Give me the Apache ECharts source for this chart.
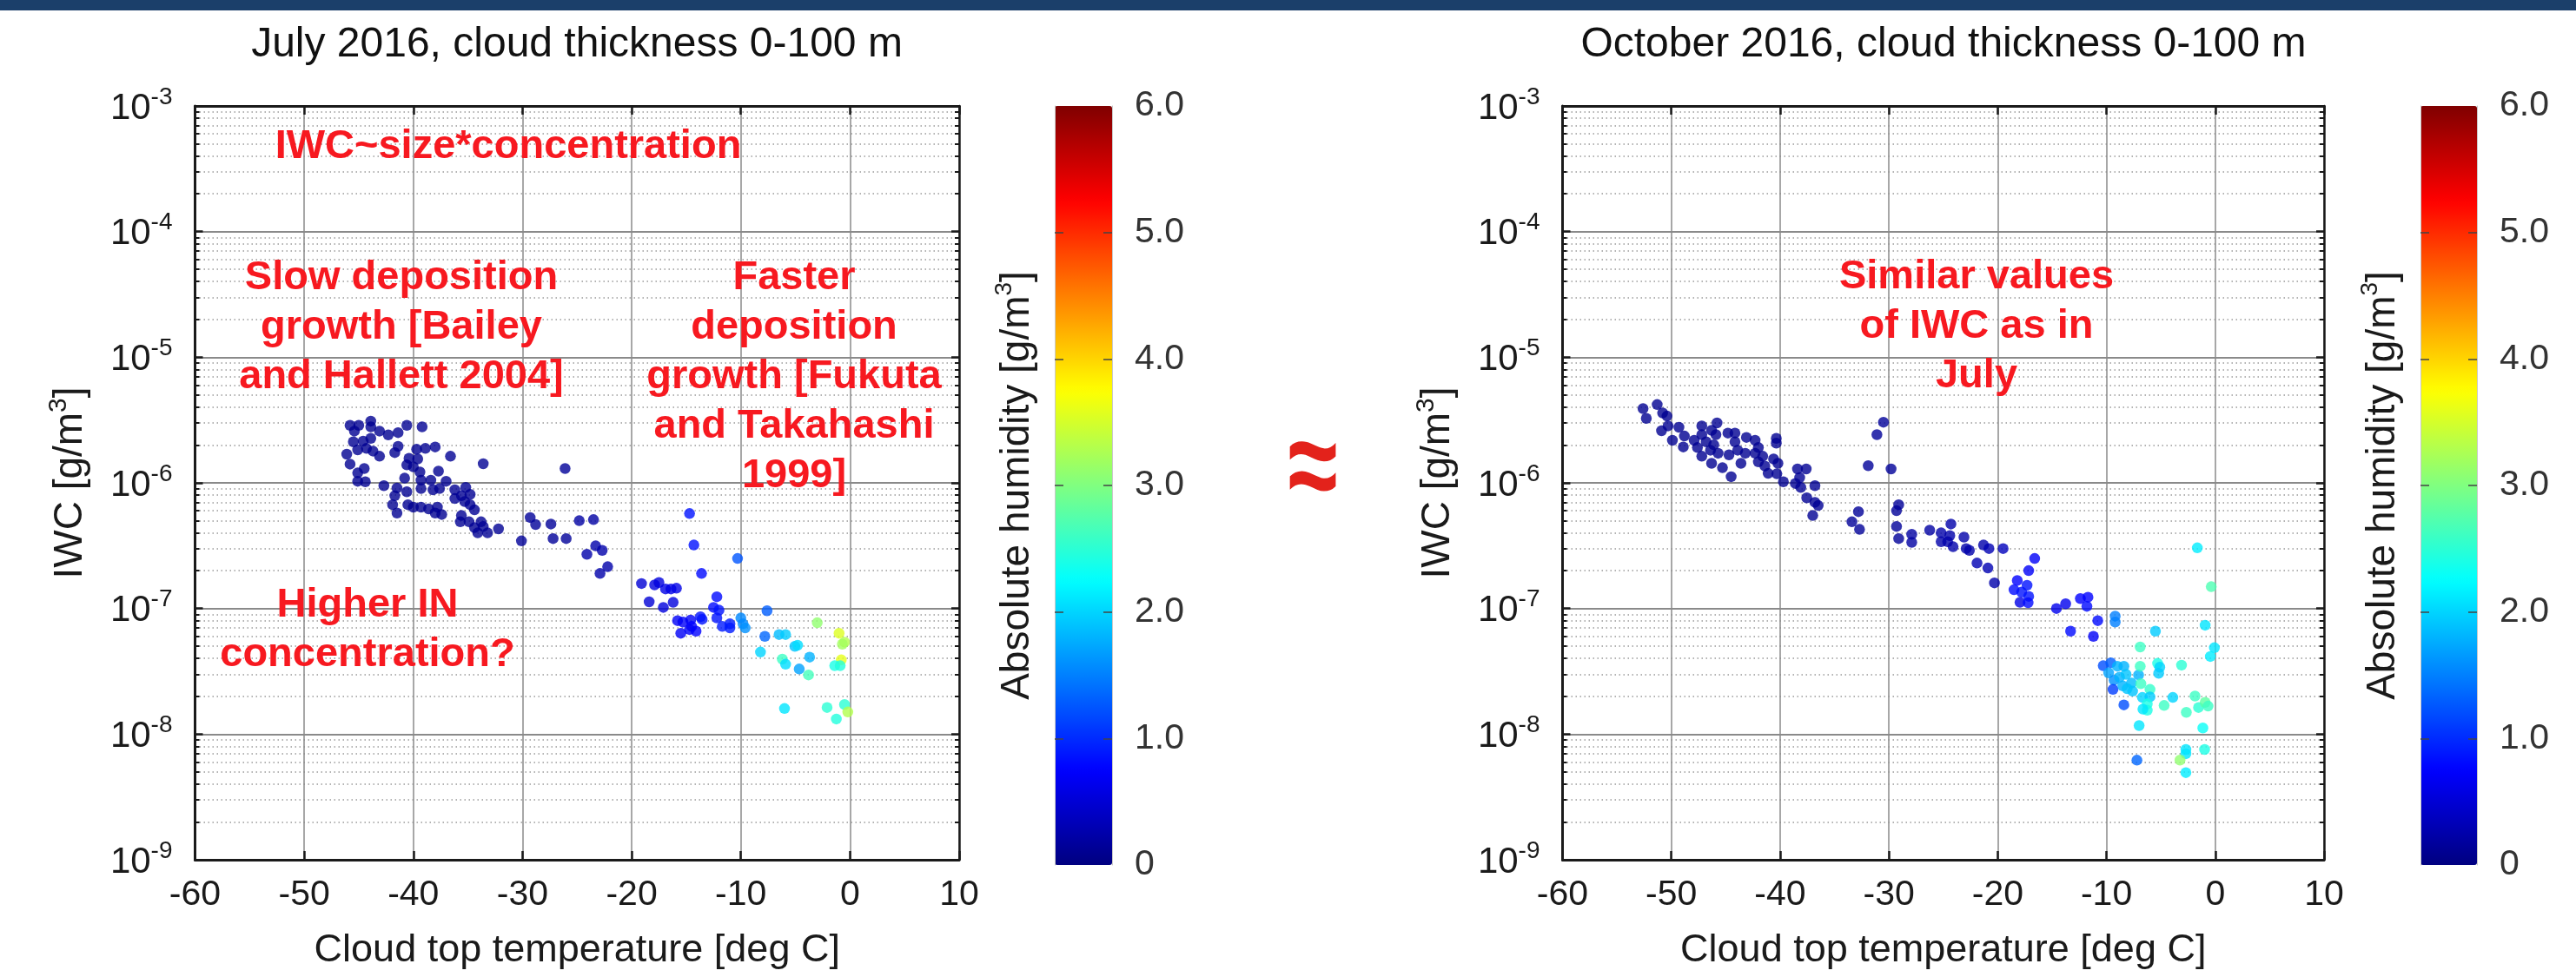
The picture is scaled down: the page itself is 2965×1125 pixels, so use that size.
<!DOCTYPE html>
<html><head><meta charset="utf-8">
<script src="https://cdn.jsdelivr.net/npm/echarts@6/dist/echarts.min.js"></script>
<style>html,body{margin:0;padding:0;background:#fff}#c{width:2965px;height:1125px}</style>
</head><body><div id="c"></div>
<script>
// ---------------- DATA ----------------
const julyTemp = [-45.8,-45.0,-45.4,-43.9,-43.9,-43.1,-42.3,-41.4,-40.6,-39.2,-45.5,-44.6,-43.9,-44.3,-45.1,-43.7,-43.1,-46.1,-45.8,-44.5,-45.1,-45.1,-44.4,-41.4,-41.7,-39.7,-38.9,-38.0,-36.6,-33.6,
 -40.4,-39.6,-40.6,-40.0,-39.4,-40.8,-42.7,-41.5,-39.3,-39.3,-38.4,-37.7,-37.0,-38.2,-37.6,-41.7,-41.9,-41.5,-40.6,-40.5,-40.0,-39.3,-38.6,-37.8,-37.4,-38.0,
 -36.2,-36.2,-35.6,-35.2,-34.8,-35.3,-34.8,-34.4,-35.6,-35.7,-34.9,-34.4,-33.8,-33.6,-34.1,-33.2,-32.2,-30.1,-29.3,-28.8,-26.1,
 -27.4,-27.2,-26.0,-24.8,-23.5,-23.3,-22.7,-24.1,-22.2,-22.9,
 -19.1,-17.9,-17.5,-16.9,-16.4,-15.9,-18.4,-17.1,-16.2,
 -14.7,-14.3,-13.6,-10.3,-12.2,-12.5,-12.0,-12.2,-11.7,-11.0,-11.0,
 -15.8,-15.3,-14.6,-14.5,-14.7,-14.1,-15.5,-13.7,-13.55,
 -10.0,-9.8,-9.6,-7.6,-7.8,-6.5,-5.9,-5.05,-4.8,-8.2,-6.2,-5.9,-4.65,-3.7,-3.8,-3.0,-1.0,-0.5,-0.7,-0.8,-1.4,-0.9,-6.0,-2.1,-1.25,-0.5,-0.2];
const julyIWC = [2.87e-6,2.87e-6,2.58e-6,3.1e-6,2.79e-6,2.58e-6,2.41e-6,2.51e-6,2.87e-6,2.79e-6,2.12e-6,2.15e-6,2.26e-6,1.88e-6,1.83e-6,1.79e-6,1.63e-6,1.69e-6,1.41e-6,1.30e-6,1.20e-6,1.03e-6,1.02e-6,1.95e-6,1.74e-6,1.85e-6,1.88e-6,1.93e-6,1.63e-6,1.42e-6,
 1.57e-6,1.55e-6,1.39e-6,1.34e-6,1.22e-6,1.09e-6,9.5e-7,9.1e-7,1.05e-6,9.0e-7,1.05e-6,1.24e-6,1.03e-6,8.8e-7,9.0e-7,7.9e-7,6.7e-7,5.75e-7,8.5e-7,6.7e-7,6.4e-7,6.4e-7,6.2e-7,6.4e-7,5.6e-7,5.75e-7,
 8.8e-7,7.5e-7,7.9e-7,9.2e-7,8.1e-7,7.1e-7,6.7e-7,6.1e-7,5.5e-7,4.9e-7,4.9e-7,4.4e-7,4.9e-7,4.5e-7,4.0e-7,4.0e-7,4.3e-7,3.45e-7,5.3e-7,4.65e-7,1.3e-6,
 4.7e-7,3.6e-7,3.6e-7,5.0e-7,5.1e-7,3.15e-7,2.9e-7,2.7e-7,2.15e-7,1.9e-7,
 1.58e-7,1.54e-7,1.61e-7,1.43e-7,1.43e-7,1.45e-7,1.13e-7,1.02e-7,1.12e-7,
 5.7e-7,3.2e-7,1.9e-7,2.5e-7,1.24e-7,1.02e-7,9.7e-8,8.4e-8,7.2e-8,7.55e-8,7.0e-8,
 8.0e-8,7.8e-8,8.1e-8,7.2e-8,6.8e-8,6.6e-8,6.35e-8,8.6e-8,8.2e-8,
 8.4e-8,7.55e-8,7.0e-8,9.6e-8,6.0e-8,6.2e-8,6.2e-8,5.0e-8,5.1e-8,4.5e-8,3.95e-8,3.6e-8,3.3e-8,4.1e-8,2.96e-8,7.7e-8,6.35e-8,5.4e-8,5.2e-8,3.9e-8,3.5e-8,3.5e-8,1.6e-8,1.63e-8,1.32e-8,1.72e-8,1.5e-8];
const julyAH = [0.1,0.1,0.1,0.1,0.1,0.1,0.1,0.1,0.1,0.12,0.1,0.1,0.1,0.1,0.1,0.1,0.1,0.1,0.1,0.1,0.1,0.1,0.1,0.1,0.1,0.1,0.1,0.12,0.12,0.12,
 0.1,0.1,0.1,0.1,0.1,0.1,0.1,0.1,0.1,0.1,0.1,0.1,0.1,0.1,0.1,0.1,0.1,0.1,0.1,0.1,0.1,0.1,0.1,0.1,0.1,0.1,
 0.12,0.12,0.12,0.12,0.12,0.12,0.12,0.12,0.12,0.12,0.12,0.12,0.12,0.12,0.12,0.12,0.12,0.15,0.15,0.15,0.15,
 0.15,0.15,0.15,0.2,0.2,0.25,0.25,0.25,0.25,0.25,
 0.5,0.55,0.55,0.6,0.6,0.6,0.5,0.55,0.55,
 0.85,0.85,0.8,1.25,0.8,0.8,0.85,0.85,0.9,0.9,0.9,
 0.7,0.7,0.7,0.75,0.7,0.75,0.7,0.85,0.85,
 1.55,1.55,1.6,1.3,1.35,1.85,1.95,1.9,2.05,2.0,2.6,2.05,1.7,1.8,2.65,3.1,3.55,3.3,3.2,3.6,2.4,2.45,2.1,2.5,2.45,2.5,3.3];

const octTemp = [-52.6,-52.3,-51.3,-50.8,-50.4,-50.9,
 -50.3,-49.3,-49.9,-48.8,-48.9,-47.9,-47.2,-47.2,-47.6,-46.8,-47.2,-46.4,-46.3,-45.8,-45.9,-46.1,-45.7,-46.3,-45.3,-44.5,-44.8,-44.15,-44.15,-44.7,-43.9,-43.6,-43.2,-43.1,-42.3,-42.0,-42.3,-41.6,-42.0,-41.4,-41.1,-40.6,-40.2,-40.35,-40.35,-40.3,-39.7,-38.4,-37.6,-38.2,-38.6,-38.1,-36.8,-37.55,-36.8,-36.5,-37.0,
 -31.9,-31.1,-30.5,-29.8,-33.4,-32.8,-32.7,-29.1,-29.3,-29.3,-29.1,-27.9,-27.9,-26.25,
 -25.2,-25.2,-24.3,-24.4,-24.6,-24.1,-23.1,-22.9,-22.6,-21.9,-21.3,-20.8,-20.9,-19.5,-20.3,
 -16.6,-17.15,-18.2,-18.5,-17.3,-17.8,-17.15,-17.95,-17.2,-14.6,-13.75,-12.4,-11.7,-11.8,-10.8,-13.3,-11.2,
 -9.2,-9.2,
 -10.3,-9.6,-9.8,-9.0,-8.4,-9.3,-8.8,-8.2,-9.4,-8.5,-7.7,-7.6,-8.1,-7.05,-6.9,-6.9,-6.84,-6.0,-6.7,-6.0,-6.25,-6.25,-6.65,-8.4,-7.0,-7.2,-5.5,-5.3,-5.1,-5.2,-4.7,-3.9,-3.1,
 -1.65,-0.37,-0.93,-0.08,-0.45,-1.86,-1.54,-0.93,-0.66,-2.66,-1.14,-2.7,-2.7,-3.24,-2.7,-0.98];
const octIWC = [3.9e-6,3.26e-6,4.2e-6,3.6e-6,3.4e-6,2.6e-6,
 2.84e-6,2.77e-6,2.18e-6,2.36e-6,1.93e-6,2.18e-6,2.84e-6,2.42e-6,1.91e-6,2.12e-6,1.63e-6,1.82e-6,2.62e-6,3.0e-6,2.42e-6,2.01e-6,1.72e-6,1.43e-6,1.32e-6,1.12e-6,2.49e-6,2.49e-6,2.12e-6,1.67e-6,1.82e-6,1.43e-6,1.72e-6,2.3e-6,2.18e-6,1.91e-6,1.72e-6,1.63e-6,1.47e-6,1.36e-6,1.19e-6,1.55e-6,1.43e-6,2.26e-6,2.07e-6,1.18e-6,1.02e-6,1.29e-6,1.29e-6,1.1e-6,9.9e-7,9.2e-7,9.5e-7,7.6e-7,7.0e-7,6.6e-7,5.5e-7,
 1.37e-6,2.42e-6,3.04e-6,1.29e-6,4.9e-7,5.9e-7,4.26e-7,6.7e-7,6.0e-7,4.5e-7,3.6e-7,3.9e-7,3.36e-7,4.2e-7,
 4.0e-7,3.4e-7,4.7e-7,3.8e-7,3.4e-7,3.1e-7,3.7e-7,3.0e-7,2.9e-7,2.3e-7,3.2e-7,3.0e-7,2.1e-7,3.0e-7,1.6e-7,
 2.5e-7,2.0e-7,1.67e-7,1.41e-7,1.53e-7,1.35e-7,1.25e-7,1.12e-7,1.11e-7,1.0e-7,1.09e-7,1.2e-7,1.23e-7,1.04e-7,8.0e-8,6.6e-8,6.0e-8,
 8.7e-8,7.8e-8,
 3.5e-8,3.7e-8,3.07e-8,3.47e-8,3.47e-8,2.69e-8,2.84e-8,2.99e-8,2.27e-8,2.42e-8,2.55e-8,2.2e-8,2.3e-8,2.96e-8,3.47e-8,4.94e-8,2.52e-8,2.27e-8,1.96e-8,1.98e-8,1.74e-8,1.55e-8,1.58e-8,1.71e-8,1.17e-8,6.2e-9,6.6e-8,3.66e-8,3.41e-8,3.05e-8,1.69e-8,1.96e-8,3.54e-8,
 3.04e-7,1.49e-7,7.36e-8,4.87e-8,4.15e-8,2.01e-8,1.63e-8,1.79e-8,1.67e-8,1.49e-8,1.12e-8,7.55e-9,6.98e-9,6.21e-9,4.94e-9,7.55e-9];
const octAH = [0.1,0.1,0.1,0.1,0.1,0.1,
 0.1,0.1,0.1,0.1,0.1,0.1,0.1,0.1,0.1,0.1,0.1,0.1,0.1,0.1,0.1,0.1,0.1,0.1,0.1,0.1,0.1,0.1,0.1,0.1,0.1,0.1,0.1,0.1,0.1,0.1,0.1,0.1,0.1,0.1,0.1,0.1,0.1,0.1,0.1,0.1,0.1,0.12,0.12,0.12,0.12,0.12,0.12,0.12,0.12,0.12,0.12,
 0.15,0.15,0.15,0.15,0.15,0.15,0.15,0.15,0.15,0.15,0.15,0.2,0.2,0.2,
 0.25,0.25,0.25,0.25,0.25,0.25,0.25,0.25,0.25,0.3,0.25,0.3,0.3,0.35,0.25,
 0.7,0.7,0.75,0.8,0.85,0.85,0.85,0.6,0.8,0.65,0.65,0.75,0.75,0.8,0.8,0.8,0.7,
 1.5,1.5,
 1.2,1.3,1.7,1.8,1.8,1.6,1.8,1.9,1.1,1.8,1.85,1.9,1.9,1.8,2.6,2.6,2.6,2.55,2.0,1.95,2.4,2.4,2.1,1.2,2.1,1.35,1.95,2.4,2.0,1.95,2.6,2.0,2.5,
 2.15,2.7,2.1,2.1,2.15,2.6,2.5,2.8,2.6,2.6,2.3,2.1,2.1,3.1,2.15,2.4];

const tempTicks = [-60,-50,-40,-30,-20,-10,0,10];
const iwcDecades = [1e-9,1e-8,1e-7,1e-6,1e-5,1e-4,1e-3];
const minorMantissas = [2,3,4,5,6,7,8,9];
const humidityTicks = [0,1,2,3,4,5,6];
const humidityLabels = ['0','1.0','2.0','3.0','4.0','5.0','6.0'];
const jetColors = ['#000080','#0000ff','#0080ff','#00ffff','#80ff80','#ffff00','#ff8000','#ff0000','#800000'];

// ---------------- CHART ----------------
const F = '"Liberation Sans", Arial, Helvetica, sans-serif';
const INK = '#1a1a1a';
const minorTickValues = [];
iwcDecades.slice(0, -1).forEach(d => minorMantissas.forEach(m => minorTickValues.push(m * d)));

const plotGrids = [
  {left: 224.5, top: 122, width: 879.5, height: 874},
  {left: 1798.5, top: 122, width: 876.5, height: 874}
];
const cbarGrids = [
  {left: 1214, top: 122, width: 66, height: 874},
  {left: 2786, top: 122, width: 65, height: 874}
];

function xAxesFor(gi) {
  const base = {gridIndex: gi, type: 'value', min: tempTicks[0], max: tempTicks[tempTicks.length - 1], interval: 10};
  return [
    Object.assign({}, base, {position: 'bottom',
      axisLine: {show: true, onZero: false, lineStyle: {color: INK, width: 3}},
      axisTick: {show: true, inside: true, length: 10, lineStyle: {color: INK, width: 2.5}},
      splitLine: {show: true, lineStyle: {color: '#8a8a8a', width: 1.5}},
      axisLabel: {show: true, margin: 20, fontFamily: F, fontSize: 41, lineHeight: 41, color: INK},
      name: 'Cloud top temperature [deg C]', nameLocation: 'middle', nameGap: 80,
      nameTextStyle: {fontFamily: F, fontSize: 45, lineHeight: 50, color: INK}}),
    Object.assign({}, base, {position: 'top',
      axisLine: {show: true, onZero: false, lineStyle: {color: INK, width: 3}},
      axisTick: {show: true, inside: true, length: 10, lineStyle: {color: INK, width: 2.5}},
      splitLine: {show: false}, axisLabel: {show: false}})
  ];
}
function yAxesFor(gi) {
  const base = {gridIndex: gi, type: 'log', logBase: 10, min: iwcDecades[0], max: iwcDecades[iwcDecades.length - 1]};
  return [
    Object.assign({}, base, {position: 'left',
      axisLine: {show: true, onZero: false, lineStyle: {color: INK, width: 3}},
      axisTick: {show: true, inside: true, length: 9, lineStyle: {color: INK, width: 2.5}},
      splitLine: {show: true, lineStyle: {color: '#8a8a8a', width: 2}},
      axisLabel: {show: true, margin: 26,
        formatter: v => '{b|10}{s|' + Math.round(Math.log10(v)) + '}',
        rich: {b: {fontFamily: F, fontSize: 42, lineHeight: 48, color: INK, verticalAlign: 'bottom'},
               s: {fontFamily: F, fontSize: 28, lineHeight: 28, color: INK, verticalAlign: 'top'}}},
      name: '{n|IWC [g/m}{u|3}{n|]}', nameLocation: 'middle', nameRotate: 90, nameGap: 120,
      nameTextStyle: {rich: {n: {fontFamily: F, fontSize: 46, lineHeight: 52, color: INK, verticalAlign: 'bottom'},
                             u: {fontFamily: F, fontSize: 30, lineHeight: 30, color: INK, verticalAlign: 'top'}}}}),
    Object.assign({}, base, {position: 'left',
      axisLine: {show: false, onZero: false},
      axisTick: {show: true, inside: true, length: 5, customValues: minorTickValues, lineStyle: {color: INK, width: 2}},
      splitLine: {show: true, lineStyle: {color: '#9a9a9a', width: 1.5, type: [1.5, 3.5]}},
      axisLabel: {show: false}}),
    Object.assign({}, base, {position: 'right',
      axisLine: {show: true, onZero: false, lineStyle: {color: INK, width: 2.5}},
      axisTick: {show: true, inside: true, length: 9, lineStyle: {color: INK, width: 2.5}},
      splitLine: {show: false}, axisLabel: {show: false}}),
    Object.assign({}, base, {position: 'right',
      axisLine: {show: false, onZero: false},
      axisTick: {show: true, inside: true, length: 5, customValues: minorTickValues, lineStyle: {color: INK, width: 2}},
      splitLine: {show: false}, axisLabel: {show: false}})
  ];
}
function cbarAxes(gi) {
  const base = {gridIndex: gi, type: 'value', min: humidityTicks[0], max: humidityTicks[humidityTicks.length - 1], interval: 1, z: 10};
  return [
    Object.assign({}, base, {position: 'right',
      axisLine: {show: true, onZero: false, lineStyle: {color: '#c8c8c8', width: 1}},
      axisTick: {show: true, inside: true, length: 10, customValues: humidityTicks.slice(1, -1), lineStyle: {color: '#444', width: 1.5}},
      splitLine: {show: false},
      axisLabel: {show: true, margin: 26, fontFamily: F, fontSize: 41, color: '#333',
        formatter: v => humidityLabels[humidityTicks.indexOf(Math.round(v))]}}),
    Object.assign({}, base, {position: 'left',
      axisLine: {show: true, onZero: false, lineStyle: {color: '#c8c8c8', width: 1}},
      axisTick: {show: true, inside: true, length: 10, customValues: humidityTicks.slice(1, -1), lineStyle: {color: '#444', width: 1.5}},
      splitLine: {show: false}, axisLabel: {show: false},
      name: '{n|Absolute humidity [g/m}{u|3}{n|]}', nameLocation: 'middle', nameRotate: 90, nameGap: 20,
      nameTextStyle: {rich: {n: {fontFamily: F, fontSize: 46, lineHeight: 52, color: INK, verticalAlign: 'bottom'},
                             u: {fontFamily: F, fontSize: 28, lineHeight: 28, color: INK, verticalAlign: 'top'}}}})
  ];
}

const xAxis = [].concat(xAxesFor(0), xAxesFor(1),
  [{gridIndex: 2, type: 'value', show: false, min: 0, max: 1}, {gridIndex: 3, type: 'value', show: false, min: 0, max: 1}]);
const yAxis = [].concat(yAxesFor(0), yAxesFor(1), cbarAxes(2), cbarAxes(3));

const pts = (T, W, A) => T.map((t, i) => [t, W[i], A[i]]);

const redText = (txt, x, y) => ({type: 'text', x: x, y: y, z: 100,
  style: {text: txt, fill: '#f71920', font: 'bold 47px ' + F, fontFamily: F, fontSize: 47, fontWeight: 'bold',
    textAlign: 'center', align: 'center', textVerticalAlign: 'middle', verticalAlign: 'middle', lineHeight: 57}});
const titleText = (txt, x) => ({type: 'text', x: x, y: 52, z: 100,
  style: {text: txt, fill: '#111', font: '48px ' + F, fontFamily: F, fontSize: 48,
    textAlign: 'center', align: 'center', textVerticalAlign: 'middle', verticalAlign: 'middle'}});

const option = {
  backgroundColor: '#ffffff',
  animation: false,
  grid: plotGrids.concat(cbarGrids),
  xAxis: xAxis,
  yAxis: yAxis,
  visualMap: [0, 1].map(i => ({
    type: 'continuous', seriesIndex: i, dimension: 2, min: 0, max: 6,
    calculable: false, realtime: false, hoverLink: false,
    left: cbarGrids[i].left, top: cbarGrids[i].top, padding: 0,
    itemWidth: cbarGrids[i].width, itemHeight: cbarGrids[i].height,
    text: null, showLabel: false, orient: 'vertical',
    inRange: {color: jetColors}
  })),
  series: [
    {type: 'scatter', name: 'July 2016', xAxisIndex: 0, yAxisIndex: 0, symbolSize: 12.5,
     data: pts(julyTemp, julyIWC, julyAH), emphasis: {disabled: true}},
    {type: 'scatter', name: 'October 2016', xAxisIndex: 2, yAxisIndex: 4, symbolSize: 12.5,
     data: pts(octTemp, octIWC, octAH), emphasis: {disabled: true}}
  ],
  graphic: [
    {type: 'rect', x: 0, y: 0, z: 100, shape: {width: 2965, height: 12}, style: {fill: '#1b3f6a'}},
    titleText('July 2016, cloud thickness 0-100 m', 664),
    titleText('October 2016, cloud thickness 0-100 m', 2237),
    redText('IWC~size*concentration', 585, 169),
    redText('Slow deposition\ngrowth [Bailey\nand Hallett 2004]', 462, 377),
    redText('Faster\ndeposition\ngrowth [Fukuta\nand Takahashi\n1999]', 914, 434),
    redText('Higher IN\nconcentration?', 423, 726),
    redText('Similar values\nof IWC as in\nJuly', 2275, 376),
    {type: 'text', x: 1511, y: 545, z: 100, scaleY: 1.4,
     style: {text: '\u2248', fill: '#e3221b', font: 'bold 104px ' + F, fontFamily: F, fontSize: 104, fontWeight: 'bold',
       textAlign: 'center', align: 'center', textVerticalAlign: 'middle', verticalAlign: 'middle'}}
  ]
};
const chart = echarts.init(document.getElementById('c'), null, {renderer: 'canvas', width: 2965, height: 1125});
chart.setOption(option);
</script>
</body></html>
